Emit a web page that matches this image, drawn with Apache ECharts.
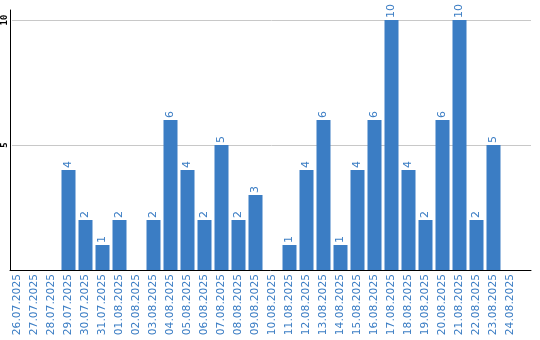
<!DOCTYPE html>
<html><head><meta charset="utf-8">
<script src="https://cdn.jsdelivr.net/npm/echarts@6/dist/echarts.min.js"></script>
<style>html,body{margin:0;padding:0;background:#fff}#c{width:540px;height:340px}</style>
</head><body><div id="c"></div>
<script>
const categories = ["26.07.2025","27.07.2025","28.07.2025","29.07.2025","30.07.2025","31.07.2025","01.08.2025","02.08.2025","03.08.2025","04.08.2025","05.08.2025","06.08.2025","07.08.2025","08.08.2025","09.08.2025","10.08.2025","11.08.2025","12.08.2025","13.08.2025","14.08.2025","15.08.2025","16.08.2025","17.08.2025","18.08.2025","19.08.2025","20.08.2025","21.08.2025","22.08.2025","23.08.2025","24.08.2025"];
const values = [0,0,0,4,2,1,2,0,2,6,4,2,5,2,3,0,1,4,6,1,4,6,10,4,2,6,10,2,5,0];
const yTicks = [0,5,10];
const blue = '#3b7dc4';
const chart = echarts.init(document.getElementById('c'));
chart.setOption({
  animation:false,
  grid:[
    {left:9, width:510, top:20, height:250},
    {left:10, right:9, top:10, bottom:70},
    {left:10, right:9, top:20, bottom:70}
  ],
  xAxis:[
    {type:'category', gridIndex:0, data:categories, axisLine:{show:false}, axisTick:{show:false},
     axisLabel:{rotate:90, color:blue, fontFamily:'DejaVu Sans', fontSize:10.7, margin:4, interval:0}},
    {type:'value', gridIndex:1, min:0, max:1, axisLine:{show:true, onZero:false, lineStyle:{color:'#000', width:1}}, axisTick:{show:false}, axisLabel:{show:false}, splitLine:{show:false}},
    {type:'value', gridIndex:2, min:0, max:1, show:false}
  ],
  yAxis:[
    {type:'value', gridIndex:0, min:0, max:10, show:false},
    {type:'value', gridIndex:1, min:0, max:10.4, axisLine:{show:true, lineStyle:{color:'#000', width:1}}, axisTick:{show:false}, axisLabel:{show:false}, splitLine:{show:false}},
    {type:'value', gridIndex:2, min:0, max:10, interval:5, axisLine:{show:false}, axisTick:{show:false},
     axisLabel:{rotate:90, color:'#000', fontFamily:'DejaVu Sans Mono', fontWeight:'bold', fontSize:9, margin:3,
       formatter:v=>(yTicks.indexOf(v)>0?String(v):'')},
     splitLine:{show:true, lineStyle:{color:'#c8c8c8', width:1}}}
  ],
  series:[{
    type:'bar', xAxisIndex:0, yAxisIndex:0, data:values, barWidth:14,
    itemStyle:{color:blue},
    label:{show:true, position:'top', rotate:90, align:'left', verticalAlign:'middle', distance:2,
      color:blue, fontFamily:'DejaVu Sans', fontSize:11,
      formatter:p=>(p.value>0?String(p.value):'')}
  }]
});
</script></body></html>
